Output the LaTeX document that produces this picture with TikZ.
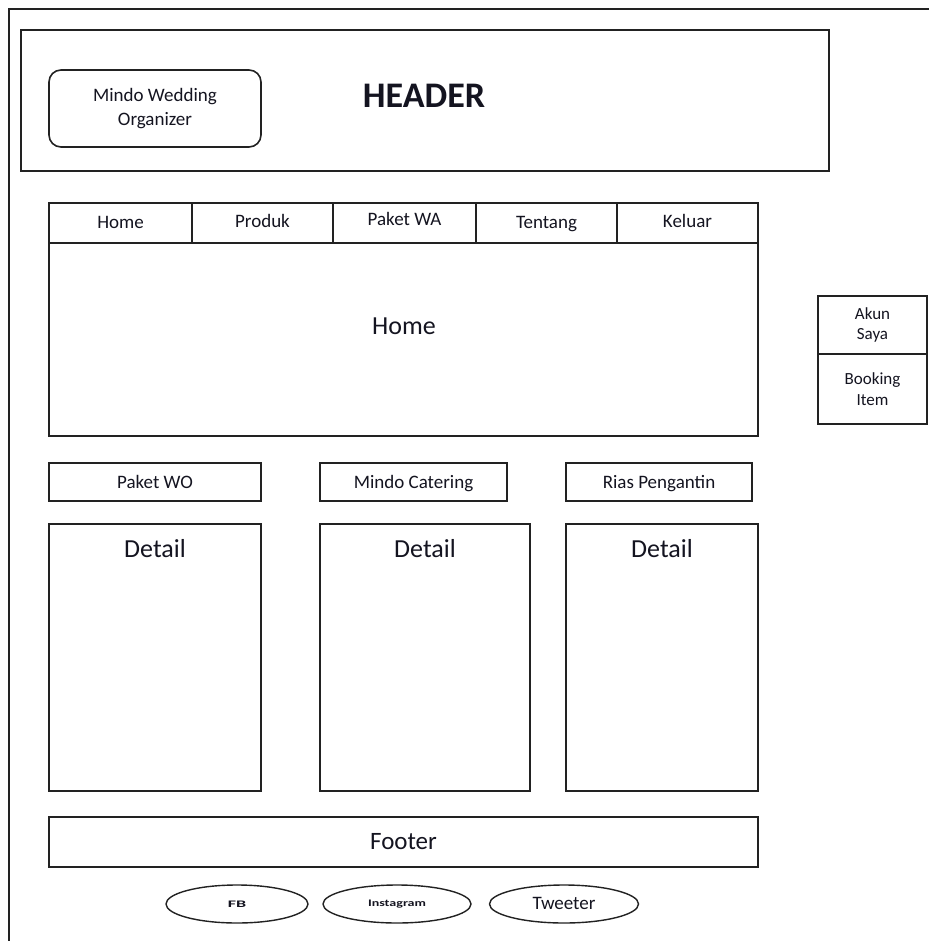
\documentclass[tikz,border=0pt]{standalone}
\usepackage{fontspec}
\setmainfont{Carlito}
\usetikzlibrary{shapes.geometric}
\definecolor{ln}{HTML}{222222}
\definecolor{tx}{HTML}{141420}
\newcommand{\fs}[1]{\fontsize{#1}{1.2\dimexpr #1pt\relax}\selectfont}
\begin{document}
\begin{tikzpicture}[x=1pt,y=-1pt,
  box/.style={draw=ln,line width=1.6pt,rectangle,inner sep=0pt,outer sep=0pt,text=tx,align=center},
  one/.style={text height=12pt,text depth=0pt},
  lbl/.style={inner sep=0pt,text=tx,align=center},
  oval/.style={draw=ln,line width=1.4pt,ellipse,inner sep=0pt,outer sep=0pt,text=tx}]
\useasboundingbox (0,0) rectangle (928,941);
\fill[white] (0,0) rectangle (928,941);
% outer frame
\draw[ln,line width=1.6pt] (9,941) -- (9,9) -- (929,9);
% header
\node[box,minimum width=808pt,minimum height=141pt] (header) at (425,100.5) {};
\node[box,rounded corners=12pt,minimum width=212pt,minimum height=77pt,font=\fs{19}] (logo) at (155,108.5) {Mindo Wedding\\[1pt]Organizer};
\node[lbl,font=\fs{36}\bfseries] (htitle) at (424,96) {HEADER};
% nav
\node[box,one,minimum width=143pt,minimum height=40pt,font=\fs{19}] (nhome) at (120.5,223) {Home};
\node[box,one,minimum width=141pt,minimum height=40pt,font=\fs{19}] (nprod) at (262.5,223) {\raisebox{1pt}{Produk}};
\node[box,one,minimum width=143pt,minimum height=40pt,font=\fs{19}] (npaket) at (404.5,223) {\raisebox{3pt}{Paket WA}};
\node[box,one,minimum width=141pt,minimum height=40pt,font=\fs{19}] (ntent) at (546.5,223) {Tentang};
\node[box,one,minimum width=141pt,minimum height=40pt,font=\fs{19}] (nkel) at (687.5,223) {\raisebox{1pt}{Keluar}};
\node[box,minimum width=709pt,minimum height=193pt] (main) at (403.5,339.5) {};
\node[lbl,font=\fs{26}] (maintext) at (404,326) {Home};
% side menu
\node[box,minimum width=109pt,minimum height=58pt,font=\fs{17}] (akun) at (872.5,325) {Akun\\Saya};
\node[box,minimum width=109pt,minimum height=70pt,font=\fs{17}] (book) at (872.5,389) {Booking\\Item};
% product labels
\node[box,one,minimum width=212pt,minimum height=38pt,font=\fs{19}] (pwo) at (155,482) {Paket WO};
\node[box,one,minimum width=187pt,minimum height=38pt,font=\fs{19}] (cat) at (413.5,482) {Mindo Catering};
\node[box,one,minimum width=186pt,minimum height=38pt,font=\fs{19}] (rias) at (659,482) {Rias Pengantin};
% details
\node[box,minimum width=212pt,minimum height=267pt] (d1) at (155,657.5) {};
\node[box,minimum width=210pt,minimum height=267pt] (d2) at (425,657.5) {};
\node[box,minimum width=192pt,minimum height=267pt] (d3) at (662,657.5) {};
\node[lbl,font=\fs{26}] (d1t) at (155,549) {Detail};
\node[lbl,font=\fs{26}] (d2t) at (425,549) {Detail};
\node[lbl,font=\fs{26}] (d3t) at (662,549) {Detail};
% footer
\node[box,minimum width=709pt,minimum height=50pt,font=\fs{25}] (footer) at (403.5,842) {Footer};
% social
\node[oval,minimum width=142pt,minimum height=38pt,font=\fs{10}\bfseries] (fb) at (237,904) {\scalebox{1.8}[1]{FB}};
\node[oval,minimum width=148pt,minimum height=38pt,font=\fs{10}\bfseries] (ig) at (397,904) {\scalebox{1.4}[1]{Instagram}};
\node[oval,minimum width=149pt,minimum height=38pt,font=\fs{19}] (tw) at (564,904) {\raisebox{2pt}{Tweeter}};
\end{tikzpicture}
\end{document}
